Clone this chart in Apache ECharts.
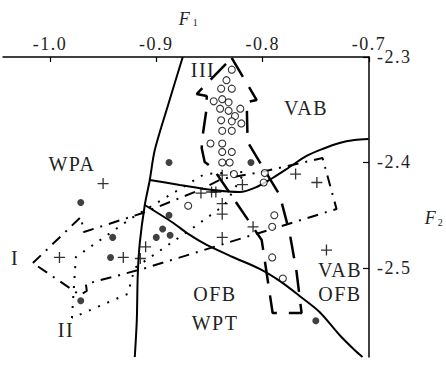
<!DOCTYPE html>
<html>
<head>
<meta charset="utf-8">
<script src="https://cdn.jsdelivr.net/npm/echarts@6/dist/echarts.min.js"></script>
<style>
html,body{margin:0;padding:0;background:#fff;}
#chart{width:446px;height:376px;}
#chart text{letter-spacing:1.5px;}
</style>
</head>
<body>
<div id="chart"></div>
<script>
// axis
const xTicks = [-1.0, -0.9, -0.8, -0.7];
const yTicks = [-2.5, -2.4, -2.3];
const xRange = [-1.0441, -0.7];
const yRange = [-2.5844, -2.3];

// solid boundary lines
const boundaryA = [[-0.8751,-2.3000],[-0.8883,-2.3436],[-0.9014,-2.3882],[-0.9061,-2.4166],[-0.9108,-2.4403],[-0.9155,-2.4763],[-0.9174,-2.5066],[-0.9183,-2.5493],[-0.9202,-2.5844]];
const boundaryB = [[-0.9061,-2.4166],[-0.8779,-2.4213],[-0.8469,-2.4261],[-0.8216,-2.4280],[-0.8056,-2.4232],[-0.7906,-2.4147],[-0.7746,-2.4043],[-0.7587,-2.3938],[-0.7437,-2.3872],[-0.7277,-2.3815],[-0.7136,-2.3787],[-0.7005,-2.3777]];
const boundaryC = [[-0.9108,-2.4403],[-0.8854,-2.4564],[-0.8685,-2.4687],[-0.8526,-2.4782],[-0.8282,-2.4896],[-0.8028,-2.5009],[-0.7840,-2.5123],[-0.7653,-2.5265],[-0.7465,-2.5417],[-0.7277,-2.5635],[-0.7136,-2.5777],[-0.7061,-2.5844]];

// field outlines
const fieldI = [[-1.0160,-2.4953],[-0.9709,-2.4517],[-0.9681,-2.4659],[-0.9127,-2.4479],[-0.8592,-2.4261],[-0.8385,-2.4156],[-0.8009,-2.4090],[-0.7437,-2.3957],[-0.7305,-2.4441],[-0.9127,-2.5009],[-0.9662,-2.5152],[-0.9653,-2.5218],[-0.9718,-2.5256],[-1.0160,-2.4953]];
const fieldII = [[-0.9793,-2.5474],[-0.9756,-2.4896],[-0.9230,-2.4526],[-0.8545,-2.4109],[-0.8169,-2.4090],[-0.8357,-2.4403],[-0.8657,-2.4621],[-0.9202,-2.5000],[-0.9268,-2.5246],[-0.9793,-2.5474]];
const fieldIII = [[-0.8291,-2.3009],[-0.8056,-2.3408],[-0.8150,-2.3427],[-0.8141,-2.3806],[-0.7840,-2.4308],[-0.7746,-2.4668],[-0.7681,-2.5038],[-0.7634,-2.5427],[-0.7906,-2.5427],[-0.8009,-2.4735],[-0.8469,-2.4052],[-0.8545,-2.3995],[-0.8573,-2.3863],[-0.8563,-2.3739],[-0.8526,-2.3483],[-0.8526,-2.3370],[-0.8620,-2.3351],[-0.8291,-2.3009]];

// samples
const openCircles = [[-0.829,-2.312],[-0.834,-2.322],[-0.839,-2.330],[-0.829,-2.330],[-0.846,-2.342],[-0.838,-2.340],[-0.832,-2.343],[-0.840,-2.349],[-0.832,-2.351],[-0.821,-2.349],[-0.826,-2.356],[-0.839,-2.360],[-0.829,-2.361],[-0.820,-2.363],[-0.838,-2.370],[-0.829,-2.370],[-0.849,-2.382],[-0.838,-2.382],[-0.838,-2.390],[-0.829,-2.390],[-0.838,-2.400],[-0.831,-2.400],[-0.827,-2.411],[-0.798,-2.410],[-0.799,-2.419],[-0.870,-2.441],[-0.789,-2.450],[-0.791,-2.461],[-0.791,-2.490],[-0.781,-2.510]];
const filledCircles = [[-0.888,-2.400],[-0.971,-2.438],[-0.811,-2.400],[-0.888,-2.450],[-0.894,-2.463],[-0.887,-2.469],[-0.900,-2.471],[-0.941,-2.471],[-0.943,-2.490],[-0.971,-2.531],[-0.750,-2.550]];
const crosses = [[-0.950,-2.420],[-0.991,-2.490],[-0.931,-2.490],[-0.915,-2.491],[-0.910,-2.480],[-0.838,-2.412],[-0.819,-2.421],[-0.858,-2.429],[-0.848,-2.428],[-0.844,-2.428],[-0.838,-2.439],[-0.838,-2.449],[-0.838,-2.471],[-0.809,-2.461],[-0.769,-2.411],[-0.749,-2.419],[-0.740,-2.483]];

const SERIF = '"Liberation Serif","Times New Roman",serif';
const chart = echarts.init(document.getElementById('chart'), null, {renderer:'svg'});

function solid(data){
  return {type:'line', data, showSymbol:false, smooth:0.3, silent:true,
    lineStyle:{color:'#000', width:2}, z:3};
}
function outline(data, type, width){
  return {type:'line', data, showSymbol:false, smooth:false, silent:true,
    lineStyle:{color:'#000', width, type, cap:'butt'}, z:2};
}
function txt(text, x, y, size, extra){
  return {type:'text', x, y, silent:true, style:{text, fill:'#222',
    font: (extra||'') + ' ' + size + 'px ' + SERIF, align:'center', verticalAlign:'middle'}};
}

chart.setOption({
  animation:false,
  grid:{left:3, right:77, top:57, bottom:19, containLabel:false},
  xAxis:{type:'value', position:'top', min:xRange[0], max:xRange[1],
    axisLine:{show:true, onZero:false, lineStyle:{color:'#000', width:1.5}},
    axisTick:{show:true, inside:true, length:5, customValues:xTicks, lineStyle:{color:'#000', width:1.2}},
    axisLabel:{customValues:xTicks, margin:6, lineHeight:14, color:'#222', fontSize:18, fontFamily:SERIF,
      formatter:v=>v.toFixed(1)},
    splitLine:{show:false}},
  yAxis:{type:'value', position:'right', min:yRange[0], max:yRange[1],
    axisLine:{show:true, onZero:false, lineStyle:{color:'#000', width:1.5}},
    axisTick:{show:true, inside:true, length:6, customValues:yTicks, lineStyle:{color:'#000', width:1.2}},
    axisLabel:{customValues:yTicks, margin:8, lineHeight:14, color:'#222', fontSize:18, fontFamily:SERIF,
      formatter:v=>v.toFixed(1)},
    splitLine:{show:false}},
  series:[
    solid(boundaryA), solid(boundaryB), solid(boundaryC),
    outline(fieldI, [11,7,2,7], 2),
    outline(fieldII, [2,8], 2),
    outline(fieldIII, [22,12], 2.5),
    {type:'scatter', data:openCircles, symbol:'circle', symbolSize:7, z:5, silent:true,
      itemStyle:{color:'#fff', borderColor:'#000', borderWidth:1.1}},
    {type:'scatter', data:filledCircles, symbol:'circle', symbolSize:7, z:5, silent:true,
      itemStyle:{color:'#111'}},
    {type:'scatter', data:crosses, symbol:'path://M4.4,0H5.6V10H4.4ZM0,4.4H10V5.6H0Z', symbolSize:11, z:5, silent:true,
      itemStyle:{color:'#000'}}
  ],
  graphic:[
    txt('WPA', 72, 164, 20),
    txt('VAB', 306, 108, 20),
    txt('VAB', 340, 270, 20),
    txt('OFB', 340, 294, 20),
    txt('OFB', 215, 294, 20),
    txt('WPT', 215, 323, 20),
    txt('I', 15, 258, 20),
    txt('II', 66, 330, 20),
    txt('III', 203, 70, 20),
    txt('F', 185, 19, 18, 'italic'),
    txt('1', 196, 22, 10),
    txt('F', 431, 218, 18, 'italic'),
    txt('2', 441, 222, 10)
  ]
});
</script>
</body>
</html>
